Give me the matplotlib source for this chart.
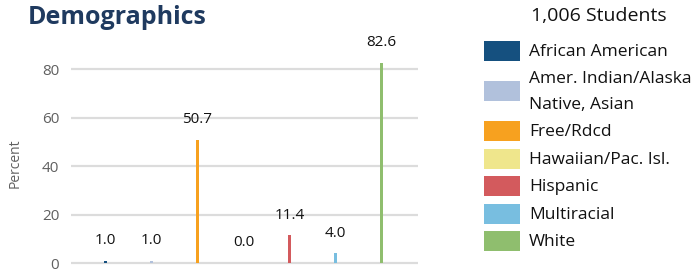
import matplotlib
matplotlib.use("Agg")
import matplotlib.pyplot as plt
from matplotlib.patches import Rectangle

categories = ["African American", "Amer. Indian/Alaska\nNative, Asian", "Free/Rdcd",
              "Hawaiian/Pac. Isl.", "Hispanic", "Multiracial", "White"]
values = [1.0, 1.0, 50.7, 0.0, 11.4, 4.0, 82.6]
colors = ["#15507f", "#b1c1dc", "#f7a11f", "#efe68c", "#d35a5d", "#78bee0", "#8fbe6e"]
yticks = [0, 20, 40, 60, 80]
title = "Demographics"
legend_title = "1,006 Students"

plt.rcParams['font.family'] = ['Open Sans', 'DejaVu Sans']

W, H = 694, 270
fig = plt.figure(figsize=(W / 100, H / 100), dpi=100)

# axes placement in pixels
left_px, right_px = 71, 418
y0_px = 263          # pixel row of value 0
ppu = 2.425          # pixels per unit
ymin, ymax = -2, 100
bottom_px = y0_px + (0 - ymin) * ppu
top_px = y0_px - ymax * ppu
ax = fig.add_axes([left_px / W, 1 - bottom_px / H, (right_px - left_px) / W, (bottom_px - top_px) / H])

x = list(range(len(values)))
ax.bar(x, values, width=0.065, color=colors, zorder=3)
ax.set_xlim(-0.75, 6.79)
ax.set_ylim(ymin, ymax)
ax.set_yticks(yticks)
ax.set_xticks([])
ax.yaxis.grid(True, color="#dcdcdc", linewidth=1.6, zorder=0)
ax.set_axisbelow(True)
for s in ax.spines.values():
    s.set_visible(False)
ax.tick_params(axis='y', length=0, pad=8.5, labelsize=11, labelcolor="#606060")

for xi, v in zip(x, values):
    ax.annotate(f"{v:.1f}", (xi, v), xytext=(0, 14.5), textcoords="offset points",
                ha="center", va="center", fontsize=11, color="#111111")

fig.text(15 / W, 1 - 163 / H, "Percent", rotation=90, ha="center", va="center",
         fontsize=10, color="#606060")
fig.text(28 / W, 1 - 17 / H, title, ha="left", va="center", fontsize=18,
         fontweight="bold", color="#1f3a5f")
fig.text(599 / W, 1 - 16 / H, legend_title, ha="center", va="center", fontsize=14,
         color="#111111")

centers = [51, 91, 131, 159, 186, 214, 241]
for c, lab, col in zip(centers, categories, colors):
    fig.patches.append(Rectangle((484 / W, 1 - (c + 10) / H), 36 / W, 20 / H,
                                 transform=fig.transFigure, facecolor=col,
                                 edgecolor="none", figure=fig))
    fig.text(529 / W, 1 - (c + 1) / H, lab, ha="left", va="center", fontsize=12.5,
             color="#111111", linespacing=1.8)

fig.savefig("out.png", dpi=100)
